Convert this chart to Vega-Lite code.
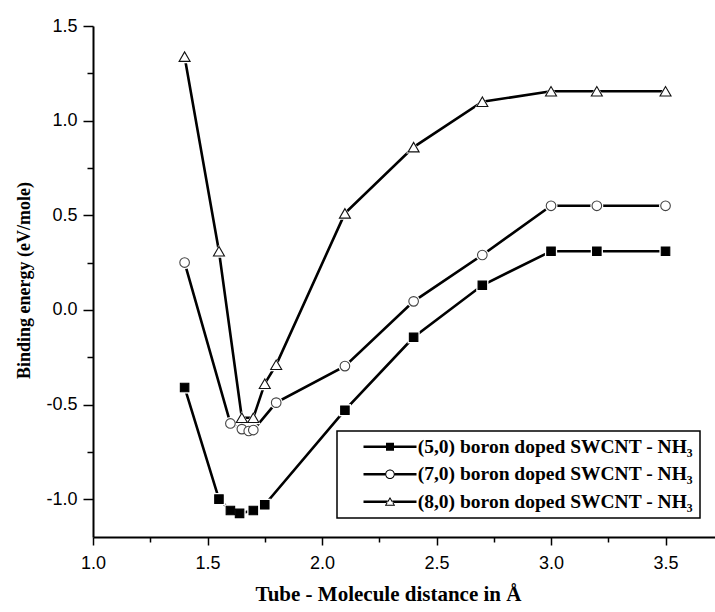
{
  "$schema": "https://vega.github.io/schema/vega-lite/v6.json",
  "autosize": {"type": "none"},
  "padding": {"left": 93, "top": 26, "right": 0, "bottom": 75},
  "width": 622,
  "height": 511,
  "background": "white",
  "config": {
    "view": {"stroke": null},
    "axis": {
      "grid": false,
      "domainColor": "black",
      "domainWidth": 2,
      "tickColor": "black",
      "tickWidth": 1.5,
      "labelColor": "black",
      "labelFont": "Liberation Sans",
      "labelFontSize": 18,
      "labelOverlap": false,
      "labelBound": false,
      "labelFlush": false,
      "titleColor": "black",
      "titleFont": "Liberation Serif",
      "titleFontWeight": "bold"
    }
  },
  "data": {
    "values": [
      {"series": "(5,0) boron doped SWCNT - NH₃", "x": 1.40, "y": -0.41},
      {"series": "(5,0) boron doped SWCNT - NH₃", "x": 1.55, "y": -1.00},
      {"series": "(5,0) boron doped SWCNT - NH₃", "x": 1.60, "y": -1.06},
      {"series": "(5,0) boron doped SWCNT - NH₃", "x": 1.64, "y": -1.075},
      {"series": "(5,0) boron doped SWCNT - NH₃", "x": 1.70, "y": -1.06},
      {"series": "(5,0) boron doped SWCNT - NH₃", "x": 1.75, "y": -1.03},
      {"series": "(5,0) boron doped SWCNT - NH₃", "x": 2.10, "y": -0.53},
      {"series": "(5,0) boron doped SWCNT - NH₃", "x": 2.40, "y": -0.145},
      {"series": "(5,0) boron doped SWCNT - NH₃", "x": 2.70, "y": 0.13},
      {"series": "(5,0) boron doped SWCNT - NH₃", "x": 3.00, "y": 0.31},
      {"series": "(5,0) boron doped SWCNT - NH₃", "x": 3.20, "y": 0.31},
      {"series": "(5,0) boron doped SWCNT - NH₃", "x": 3.50, "y": 0.31},
      {"series": "(7,0) boron doped SWCNT - NH₃", "x": 1.40, "y": 0.25},
      {"series": "(7,0) boron doped SWCNT - NH₃", "x": 1.60, "y": -0.60},
      {"series": "(7,0) boron doped SWCNT - NH₃", "x": 1.65, "y": -0.63},
      {"series": "(7,0) boron doped SWCNT - NH₃", "x": 1.68, "y": -0.64},
      {"series": "(7,0) boron doped SWCNT - NH₃", "x": 1.70, "y": -0.635},
      {"series": "(7,0) boron doped SWCNT - NH₃", "x": 1.80, "y": -0.49},
      {"series": "(7,0) boron doped SWCNT - NH₃", "x": 2.10, "y": -0.297},
      {"series": "(7,0) boron doped SWCNT - NH₃", "x": 2.40, "y": 0.045},
      {"series": "(7,0) boron doped SWCNT - NH₃", "x": 2.70, "y": 0.29},
      {"series": "(7,0) boron doped SWCNT - NH₃", "x": 3.00, "y": 0.55},
      {"series": "(7,0) boron doped SWCNT - NH₃", "x": 3.20, "y": 0.55},
      {"series": "(7,0) boron doped SWCNT - NH₃", "x": 3.50, "y": 0.55},
      {"series": "(8,0) boron doped SWCNT - NH₃", "x": 1.40, "y": 1.338},
      {"series": "(8,0) boron doped SWCNT - NH₃", "x": 1.55, "y": 0.31},
      {"series": "(8,0) boron doped SWCNT - NH₃", "x": 1.65, "y": -0.57},
      {"series": "(8,0) boron doped SWCNT - NH₃", "x": 1.70, "y": -0.57},
      {"series": "(8,0) boron doped SWCNT - NH₃", "x": 1.75, "y": -0.39},
      {"series": "(8,0) boron doped SWCNT - NH₃", "x": 1.80, "y": -0.29},
      {"series": "(8,0) boron doped SWCNT - NH₃", "x": 2.10, "y": 0.51},
      {"series": "(8,0) boron doped SWCNT - NH₃", "x": 2.40, "y": 0.86},
      {"series": "(8,0) boron doped SWCNT - NH₃", "x": 2.70, "y": 1.10},
      {"series": "(8,0) boron doped SWCNT - NH₃", "x": 3.00, "y": 1.155},
      {"series": "(8,0) boron doped SWCNT - NH₃", "x": 3.20, "y": 1.155},
      {"series": "(8,0) boron doped SWCNT - NH₃", "x": 3.50, "y": 1.155}
    ]
  },
  "encoding": {
    "x": {
      "field": "x", "type": "quantitative",
      "scale": {"domain": [1, 3.716], "nice": false, "zero": false},
      "axis": {
        "title": "Tube - Molecule distance in Å",
        "titleFontSize": 21,
        "titleX": 295,
        "titleY": 57,
        "titleBaseline": "middle",
        "values": [1, 1.25, 1.5, 1.75, 2, 2.25, 2.5, 2.75, 3, 3.25, 3.5],
        "tickSize": {"condition": {"test": "datum.value % 0.5 == 0", "value": 8}, "value": 5},
        "labelPadding": 9,
        "labelExpr": "datum.value % 0.5 == 0 ? format(datum.value, '.1f') : ''"
      }
    },
    "y": {
      "field": "y", "type": "quantitative",
      "scale": {"domain": [-1.2, 1.5], "nice": false, "zero": false},
      "axis": {
        "title": "Binding energy (eV/mole)",
        "titleFontSize": 18,
        "titleX": -69,
        "titleY": 254,
        "titleAngle": 270,
        "titleBaseline": "middle",
        "titleAlign": "center",
        "values": [-1, -0.75, -0.5, -0.25, 0, 0.25, 0.5, 0.75, 1, 1.25, 1.5],
        "tickSize": {"condition": {"test": "datum.value % 0.5 == 0", "value": 10}, "value": 6},
        "labelPadding": 6,
        "labelExpr": "datum.value % 0.5 == 0 ? replace(format(datum.value, '.1f'), '−', '-') : ''"
      }
    }
  },
  "layer": [
    {
      "data": {"values": [{"edge": "top"}]},
      "mark": {"type": "rule", "color": "#777777", "strokeWidth": 1},
      "encoding": {"x": null, "y": {"datum": 1.5, "type": "quantitative"}}
    },
    {
      "mark": {"type": "line", "color": "black", "strokeWidth": 2.6},
      "encoding": {
        "detail": {"field": "series", "type": "nominal"}
      }
    },
    {
      "mark": {"type": "point", "filled": true, "color": "white", "opacity": 1, "strokeWidth": 0},
      "encoding": {
        "shape": {
          "condition": [
            {"test": "indexof(datum.series, '(5,0)') == 0", "value": "square"},
            {"test": "indexof(datum.series, '(7,0)') == 0", "value": "circle"}
          ],
          "value": "triangle-up"
        },
        "size": {
          "condition": [
            {"test": "indexof(datum.series, '(5,0)') == 0", "value": 150},
            {"test": "indexof(datum.series, '(7,0)') == 0", "value": 170}
          ],
          "value": 225
        }
      }
    },
    {
      "mark": {"type": "point", "opacity": 1, "strokeWidth": 1.1},
      "encoding": {
        "shape": {
          "condition": [
            {"test": "indexof(datum.series, '(5,0)') == 0", "value": "square"},
            {"test": "indexof(datum.series, '(7,0)') == 0", "value": "circle"}
          ],
          "value": "triangle-up"
        },
        "size": {
          "condition": [
            {"test": "indexof(datum.series, '(5,0)') == 0", "value": 72},
            {"test": "indexof(datum.series, '(7,0)') == 0", "value": 92}
          ],
          "value": 121
        },
        "fill": {
          "condition": {"test": "indexof(datum.series, '(5,0)') == 0", "value": "black"},
          "value": "white"
        },
        "stroke": {
          "condition": [
            {"test": "indexof(datum.series, '(5,0)') == 0", "value": "black"},
            {"test": "indexof(datum.series, '(7,0)') == 0", "value": "#444444"}
          ],
          "value": "#111111"
        }
      }
    },
    {
      "mark": {"type": "point", "filled": true, "opacity": 0, "size": 0},
      "encoding": {
        "shape": {
          "field": "series", "type": "nominal",
          "scale": {
            "domain": ["(5,0) boron doped SWCNT - NH₃", "(7,0) boron doped SWCNT - NH₃", "(8,0) boron doped SWCNT - NH₃"],
            "range": [
              "M-6.625,-0.3H-1V-1H1V-0.3H6.625V0.3H1V1H-1V0.3H-6.625Z",
              "M-6.625,-0.3H-1.2V0.3H-6.625Z M1.2,-0.3H6.625V0.3H1.2Z M1.2,0A1.2,1.2,0,1,1,-1.2,0A1.2,1.2,0,1,1,1.2,0Z M0.95,0A0.95,0.95,0,1,0,-0.95,0A0.95,0.95,0,1,0,0.95,0Z",
              "M-6.625,-0.3H-0.6V0.3H-6.625Z M0.6,-0.3H6.625V0.3H0.6Z M0,-1.2L-1.3,1L1.3,1Z M0,-0.7L0.88,0.75L-0.88,0.75Z"
            ]
          },
          "legend": {
            "title": null,
            "orient": "none",
            "legendX": 244,
            "legendY": 405,
            "padding": 6,
            "strokeColor": "black",
            "fillColor": "white",
            "symbolSize": 64,
            "symbolStrokeWidth": 0,
            "symbolOffset": 37.25,
            "labelOffset": 18,
            "rowPadding": 6.5,
            "labelFont": "Liberation Serif",
            "labelFontWeight": "bold",
            "labelFontSize": 19.5,
            "labelColor": "black",
            "labelLimit": 500,
            "encoding": {
              "legend": {"strokeWidth": {"value": 1.5}},
              "symbols": {
                "fill": {"value": "black"},
                "fillOpacity": {"value": 1},
                "opacity": {"value": 1},
                "stroke": {"value": "transparent"},
                "strokeWidth": {"value": 0},
                "size": {"value": 64}
              }
            }
          }
        }
      }
    }
  ]
}
